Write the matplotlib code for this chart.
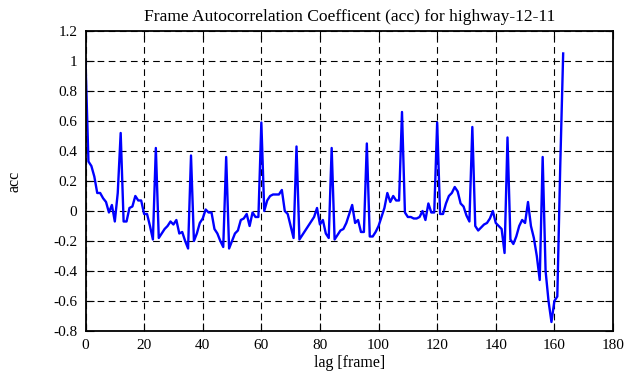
import matplotlib
matplotlib.use('Agg')
import matplotlib.pyplot as plt
import numpy as np

# autocorrelation values, one per lag (0..163)
acc = [
    1.00, 0.33, 0.30, 0.23, 0.12, 0.12, 0.085, 0.06, -0.01, 0.04,
    -0.07, 0.12, 0.52, -0.07, -0.07, 0.02, 0.03, 0.10, 0.07, 0.07,
    -0.02, -0.02, -0.10, -0.19, 0.42, -0.18, -0.15, -0.12, -0.10, -0.07,
    -0.09, -0.06, -0.15, -0.14, -0.20, -0.25, 0.37, -0.20, -0.15, -0.08,
    -0.05, 0.01, -0.01, -0.01, -0.12, -0.15, -0.20, -0.24, 0.36, -0.25,
    -0.20, -0.15, -0.13, -0.06, -0.05, -0.02, -0.10, -0.01, -0.04, -0.04,
    0.59, 0.00, 0.07, 0.10, 0.11, 0.11, 0.11, 0.14, 0.00, -0.02,
    -0.10, -0.18, 0.43, -0.19, -0.16, -0.13, -0.10, -0.07, -0.04, 0.02,
    -0.09, -0.06, -0.15, -0.18, 0.42, -0.19, -0.16, -0.13, -0.12, -0.08,
    -0.02, 0.04, -0.08, -0.06, -0.14, -0.14, 0.45, -0.17, -0.17, -0.14,
    -0.10, -0.04, 0.02, 0.12, 0.06, 0.10, 0.07, 0.07, 0.66, -0.01,
    -0.04, -0.04, -0.05, -0.05, -0.04, 0.00, -0.06, 0.05, -0.01, -0.01,
    0.59, -0.02, -0.02, 0.05, 0.10, 0.12, 0.16, 0.13, 0.05, 0.03,
    -0.03, -0.07, 0.56, -0.10, -0.13, -0.11, -0.09, -0.08, -0.05, 0.00,
    -0.08, -0.10, -0.12, -0.28, 0.49, -0.19, -0.22, -0.17, -0.10, -0.06,
    -0.08, 0.06, -0.10, -0.18, -0.30, -0.46, 0.36, -0.40, -0.60, -0.74,
    -0.60, -0.57, 0.30, 1.05,
]
lag = np.arange(len(acc))

xticks = [0, 20, 40, 60, 80, 100, 120, 140, 160, 180]
yticks = [-0.8, -0.6, -0.4, -0.2, 0, 0.2, 0.4, 0.6, 0.8, 1, 1.2]
ytick_labels = ['-0.8', '-0.6', '-0.4', '-0.2', '0', '0.2', '0.4', '0.6', '0.8', '1', '1.2']

plt.rcParams['font.family'] = ['Liberation Serif', 'DejaVu Serif']
plt.rcParams['font.size'] = 11

fig = plt.figure(figsize=(6.41, 3.87), dpi=100)
ax = fig.add_axes([0.1334, 0.1447, 0.8229, 0.7753])

ax.plot(lag, acc, color='#0000ff', linewidth=1.7)

ax.set_xlim(0, 180)
ax.set_ylim(-0.8, 1.2)
ax.set_xticks(xticks)
ax.set_yticks(yticks)
ax.set_yticklabels(ytick_labels)
ax.grid(True, color='black', linestyle=(0, (6, 4)), linewidth=0.8)
ax.tick_params(direction='in', length=6, width=0.8, top=True, right=True, pad=6)
for s in ax.spines.values():
    s.set_linewidth(1.3)

ax.set_title('Frame Autocorrelation Coefficent (acc) for highway-12-11',
             fontsize=12.6, pad=7)
ax.set_xlabel('lag [frame]', fontsize=11.5, labelpad=2)
ax.set_ylabel('acc', fontsize=11.5, labelpad=22)

fig.savefig('out.png', dpi=100)
